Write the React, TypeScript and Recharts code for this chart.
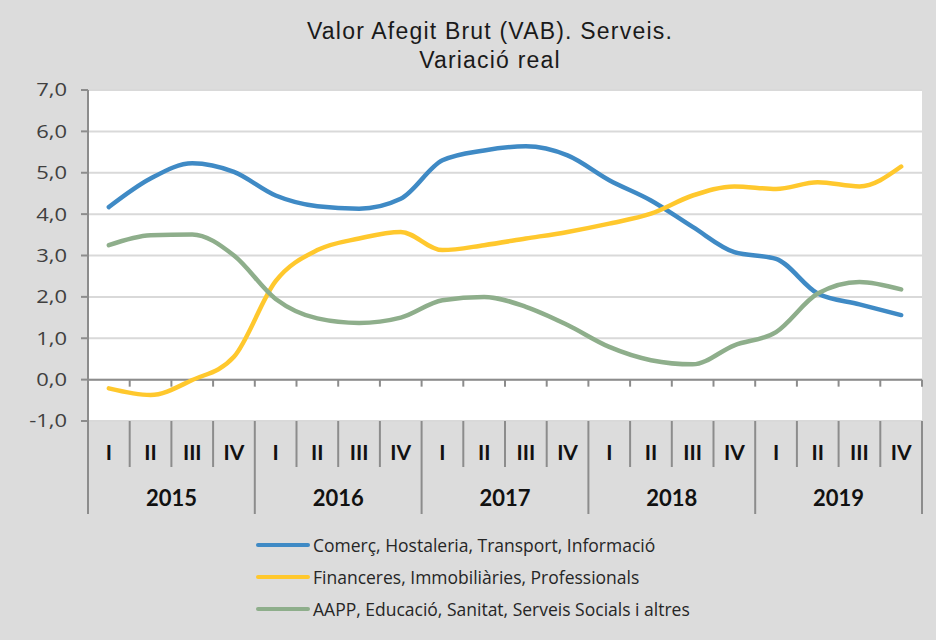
import {
  LineChart,
  Line,
  XAxis,
  YAxis,
  CartesianGrid,
  ReferenceLine,
  Legend,
} from "recharts";

const quarters = ["I", "II", "III", "IV", "I", "II", "III", "IV", "I", "II", "III", "IV", "I", "II", "III", "IV", "I", "II", "III", "IV"];
const years = ["2015", "2016", "2017", "2018", "2019"];

const comerc = [4.17, 4.86, 5.23, 5.02, 4.45, 4.19, 4.13, 4.37, 5.3, 5.54, 5.64, 5.42, 4.82, 4.33, 3.69, 3.08, 2.92, 2.08, 1.82, 1.56];
const financeres = [-0.21, -0.37, -0.01, 0.55, 2.38, 3.13, 3.41, 3.57, 3.13, 3.25, 3.41, 3.57, 3.77, 4.01, 4.45, 4.67, 4.61, 4.77, 4.67, 5.15];
const aapp = [3.25, 3.49, 3.51, 3.0, 1.95, 1.48, 1.37, 1.5, 1.92, 2.0, 1.76, 1.32, 0.79, 0.47, 0.37, 0.83, 1.15, 2.08, 2.36, 2.18];

const yTicks = [-1, 0, 1, 2, 3, 4, 5, 6, 7];

const SERIES = [
  { key: "comerc", name: "Comerç, Hostaleria, Transport, Informació", color: "#3f8ac5" },
  { key: "financeres", name: "Financeres, Immobiliàries, Professionals", color: "#ffc82d" },
  { key: "aapp", name: "AAPP, Educació, Sanitat, Serveis Socials i altres", color: "#8eae8b" },
];

const data = quarters.map((q, i) => ({
  x: i + 0.5,
  q,
  comerc: comerc[i],
  financeres: financeres[i],
  aapp: aapp[i],
}));

const boundaries = Array.from({ length: quarters.length + 1 }, (_, i) => i);

const AXIS = "#8c8c8c";
const FONT = "'Open Sans', 'Noto Sans', sans-serif";
const BOLD_FONT = "Lato, 'Open Sans', sans-serif";

// the source image is a bit stretched sideways, so the value labels are too
function ValueTick(props: any) {
  const { x, y, payload } = props;
  const label = (payload.value as number).toFixed(1).replace(".", ",");
  return (
    <text
      transform={`translate(${x},${y}) scale(1.22,1)`}
      dy="0.36em"
      textAnchor="end"
      fontFamily={FONT}
      fontSize={18}
      fill="#404040"
    >
      {label}
    </text>
  );
}

function QuarterTick(props: any) {
  const { x, y, payload, width } = props;
  const i = payload.value as number;
  const step = (width || 834) / quarters.length;
  const isYear = i % 4 === 0;
  return (
    <g>
      <line x1={x} x2={x} y1={y} y2={y + (isYear ? 93 : 46)} stroke={AXIS} strokeWidth={2} />
      {i < quarters.length && (
        <text
          x={x + step / 2}
          y={y + 38.5}
          textAnchor="middle"
          fontFamily={BOLD_FONT}
          fontWeight={700}
          fontSize={21}
          fill="#111"
        >
          {quarters[i]}
        </text>
      )}
      {isYear && i < quarters.length && (
        <text
          x={x + step * 2}
          y={y + 85}
          textAnchor="middle"
          fontFamily={BOLD_FONT}
          fontWeight={700}
          fontSize={22}
          fill="#111"
        >
          {years[i / 4]}
        </text>
      )}
    </g>
  );
}

function LegendContent() {
  return (
    <div style={{ fontFamily: FONT, fontSize: 17.5, color: "#262626" }}>
      {SERIES.map((s) => (
        <div key={s.key} style={{ display: "flex", alignItems: "center", height: 32 }}>
          <div style={{ width: 54, height: 4, background: s.color, borderRadius: 2, marginRight: 3 }} />
          <span>{s.name}</span>
        </div>
      ))}
    </div>
  );
}

export default function App() {
  return (
    <div
      style={{
        position: "absolute",
        left: 0,
        top: 0,
        width: 936,
        height: 640,
        background: "#dcdcdc",
      }}
    >
      <div
        style={{
          position: "absolute",
          left: 240,
          width: 500,
          top: 17,
          textAlign: "center",
          fontFamily: "'Liberation Sans', Arial, sans-serif",
          fontSize: 23,
          letterSpacing: 1.2,
          lineHeight: "29px",
          color: "#1a1a1a",
        }}
      >
        <div>Valor Afegit Brut (VAB).  Serveis.</div>
        <div>Variació real</div>
      </div>
      <LineChart
        width={936}
        height={640}
        data={data}
        margin={{ top: 90, right: 14, bottom: 119, left: 0 }}
      >
        <CartesianGrid vertical={false} stroke="#d9d9d9" strokeWidth={2} fill="#ffffff" />
        <XAxis
          type="number"
          dataKey="x"
          domain={[0, quarters.length]}
          ticks={boundaries}
          interval={0}
          axisLine={false}
          tickLine={false}
          tickSize={0}
          tickMargin={0}
          height={100}
          tick={<QuarterTick />}
        />
        <YAxis
          domain={[-1, 7]}
          ticks={yTicks}
          interval={0}
          width={88}
          axisLine={{ stroke: AXIS, strokeWidth: 2 }}
          tickLine={{ stroke: AXIS, strokeWidth: 2 }}
          tickSize={7}
          tickMargin={14}
          tick={<ValueTick />}
        />
        <ReferenceLine y={0} stroke={AXIS} strokeWidth={2} />
        {boundaries.map((b) => (
          <ReferenceLine
            key={b}
            segment={[
              { x: b, y: 0 },
              { x: b, y: -0.17 },
            ]}
            stroke={AXIS}
            strokeWidth={2}
          />
        ))}
        {SERIES.map((s) => (
          <Line
            key={s.key}
            dataKey={s.key}
            name={s.name}
            type="monotone"
            stroke={s.color}
            strokeWidth={4.5}
            dot={false}
            strokeLinecap="round"
            isAnimationActive={false}
          />
        ))}
        <Legend
          layout="vertical"
          align="center"
          verticalAlign="middle"
          wrapperStyle={{ left: 256, top: 529, width: 520 }}
          content={<LegendContent />}
        />
      </LineChart>
    </div>
  );
}
